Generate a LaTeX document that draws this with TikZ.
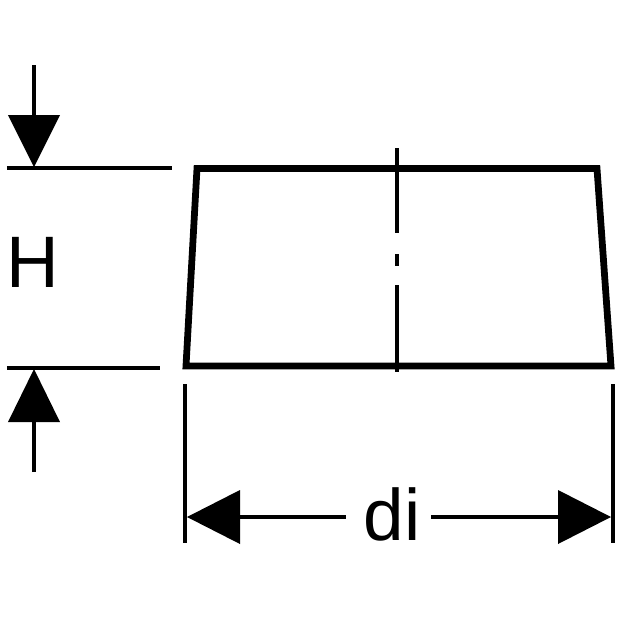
\documentclass[tikz,border=0pt]{standalone}
\usepackage{fontspec}
\setmainfont{Liberation Sans}
\usetikzlibrary{calc}
\tikzset{
  outline/.style={black, line width=6.8*0.5669pt, line join=miter},
  centerline/.style={black, line width=3.6*0.5669pt},
  dimline/.style={black, line width=3.6*0.5669pt},
  dimhead/.style={fill=black, draw=none},
  dimlabel/.style={black, inner sep=0pt, anchor=base, font=\fontsize{41.5}{41.5}\selectfont}
}

\begin{document}
\begin{tikzpicture}[x=0.02cm, y=-0.02cm]
  \useasboundingbox (0,0) rectangle (620,620);
  \fill[white] (0,0) rectangle (620,620);

  % Cone body
  \coordinate (topleft) at (197,168.5);
  \coordinate (topright) at (597,168.5);
  \coordinate (botright) at (611,366);
  \coordinate (botleft) at (186,366);
  \draw[outline] (topleft) -- (topright) -- (botright) -- (botleft) -- cycle;

  % Center line
  \coordinate (axisa) at (397,148);
  \coordinate (axisb) at (397,233);
  \coordinate (axisc) at (397,254);
  \coordinate (axisd) at (397,266);
  \coordinate (axise) at (397,285);
  \coordinate (axisf) at (397,372);
  \draw[centerline] (axisa) -- (axisb);
  \draw[centerline] (axisc) -- (axisd);
  \draw[centerline] (axise) -- (axisf);

  % Height dimension
  \coordinate (htopa) at (7,168);
  \coordinate (htopb) at (172,168);
  \coordinate (hbota) at (7,368);
  \coordinate (hbotb) at (160,368);
  \draw[dimline] (htopa) -- (htopb);
  \draw[dimline] (hbota) -- (hbotb);
  \coordinate (upstart) at (34,65);
  \coordinate (upend) at (34,116);
  \coordinate (lowstart) at (34,472);
  \coordinate (lowend) at (34,421);
  \draw[dimline] (upstart) -- (upend);
  \draw[dimline] (lowstart) -- (lowend);
  \fill[dimhead] (8,115) -- (60,115) -- (34,167) -- cycle;
  \fill[dimhead] (8,422) -- (60,422) -- (34,369) -- cycle;
  \node[dimlabel] (hlabel) at (33,287) {H};

  % Diameter dimension
  \coordinate (dlefta) at (185,384);
  \coordinate (dleftb) at (185,543);
  \coordinate (drighta) at (613,384);
  \coordinate (drightb) at (613,543);
  \draw[dimline] (dlefta) -- (dleftb);
  \draw[dimline] (drighta) -- (drightb);
  \fill[dimhead] (187,517) -- (240,490) -- (240,544) -- cycle;
  \fill[dimhead] (611,517) -- (558,490) -- (558,544) -- cycle;
  \node[dimlabel] (dlabel) at (392,540) {di};
  \coordinate (shaftla) at (240,517);
  \coordinate (shaftlb) at (346,517);
  \coordinate (shaftra) at (431,517);
  \coordinate (shaftrb) at (558,517);
  \draw[dimline] (shaftla) -- (shaftlb);
  \draw[dimline] (shaftra) -- (shaftrb);
\end{tikzpicture}
\end{document}
